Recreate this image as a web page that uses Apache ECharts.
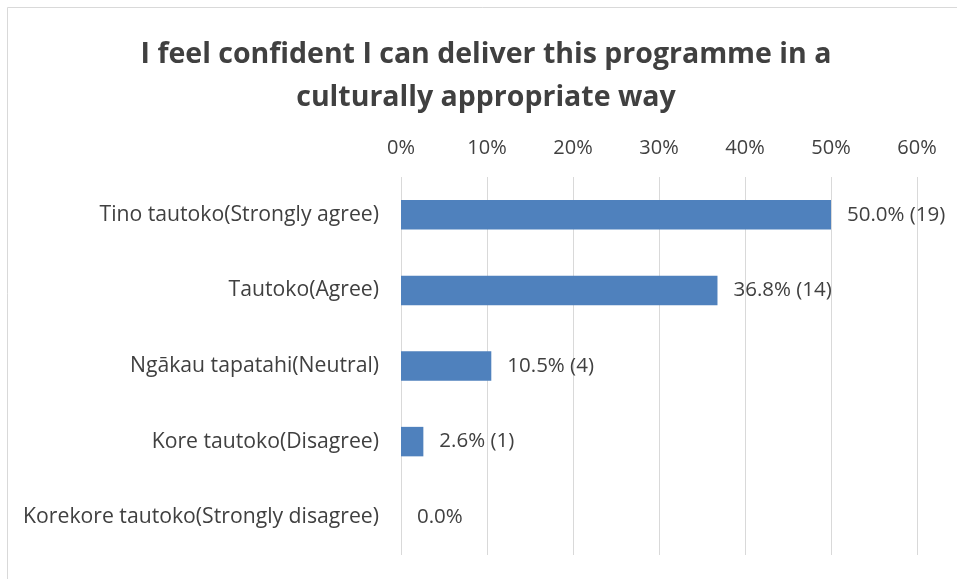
<!DOCTYPE html>
<html><head><meta charset="utf-8">
<script src="https://cdn.jsdelivr.net/npm/echarts@6/dist/echarts.min.js"></script>
<style>html,body{margin:0;padding:0;background:#fff}#c{width:957px;height:579px}</style>
</head><body><div id="c"></div>
<script>
const categories = ['Tino tautoko(Strongly agree)','Tautoko(Agree)','Ngākau tapatahi(Neutral)','Kore tautoko(Disagree)','Korekore tautoko(Strongly disagree)'];
const percents = [50.0, 36.8, 10.5, 2.6, 0.0];
const counts = [19, 14, 4, 1, 0];
const tickValues = [0,10,20,30,40,50,60];

const FONT = 'Open Sans';
const chart = echarts.init(document.getElementById('c'), null, {renderer:'canvas'});
chart.setOption({
  animation:false,
  backgroundColor:'#fff',
  graphic:[{type:'rect',shape:{x:7.5,y:7.5,width:1000,height:1000},style:{fill:'none',stroke:'#d9d9d9',lineWidth:1}}],
  title:{text:'I feel confident I can deliver this programme in a\nculturally appropriate way',left:481,textAlign:'center',top:28,
    textStyle:{fontFamily:FONT,fontWeight:'bold',fontSize:28.5,color:'#404040',lineHeight:43}},
  grid:{left:401,right:40,top:177,bottom:24,containLabel:false},
  xAxis:{type:'value',position:'top',min:tickValues[0],max:tickValues[tickValues.length-1],interval:10,
    axisLine:{show:false},axisTick:{show:false},
    axisLabel:{formatter:'{value}%',fontFamily:FONT,fontSize:20,color:'#404040',margin:19},
    splitLine:{lineStyle:{color:'#d9d9d9',width:1}}},
  yAxis:{type:'category',inverse:true,data:categories,axisLine:{show:false},axisTick:{show:false},
    axisLabel:{fontFamily:FONT,fontSize:21.2,color:'#404040',margin:22}},
  series:[{type:'bar',data:percents,barWidth:'39%',itemStyle:{color:'#4F81BD'},
    label:{show:true,position:'right',distance:16,fontFamily:FONT,fontSize:20.5,color:'#404040',
      formatter:p=>p.value.toFixed(1)+'%'+(counts[p.dataIndex]>0?' ('+counts[p.dataIndex]+')':'')}}]
});
</script></body></html>
